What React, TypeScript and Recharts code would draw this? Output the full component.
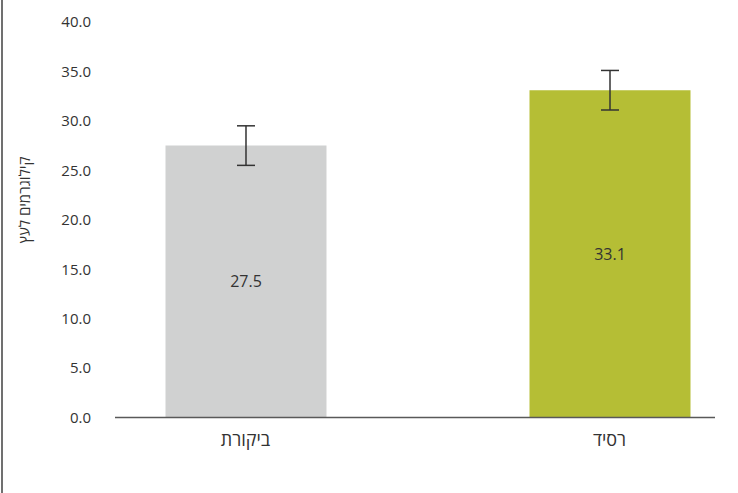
import React from "react";
import { BarChart, Bar, XAxis, YAxis, ErrorBar, LabelList, Cell, Label } from "recharts";

const categories = ["ביקורת", "רסיד"];
const values = [27.5, 33.1];
const errors = [2.0, 2.0];
const colors = ["#D0D1D1", "#B5BE35"];
const yTicks = [0, 5, 10, 15, 20, 25, 30, 35, 40];

const data = categories.map((name, i) => ({ idx: i, name, value: values[i], err: errors[i] }));

const FONT = '"Open Sans", "Liberation Sans", "DejaVu Sans", sans-serif';

const YTitle = () => (
  <text
    x={24}
    y={200}
    transform="rotate(-90, 24, 200)"
    textAnchor="middle"
    dominantBaseline="central"
    fill="#333"
    fontSize={15}
    fontFamily={FONT}
  >
    קילוגרמים לעץ
  </text>
);

export default function App() {
  return (
    <div style={{ position: "absolute", left: 0, top: 0, width: 738, height: 493, background: "#fff", overflow: "hidden" }}>
      <BarChart
        width={738}
        height={493}
        data={data}
        margin={{ top: 22, right: 23, bottom: 45.5, left: 0 }}
        style={{ fontFamily: FONT }}
      >
        <XAxis
          dataKey="idx"
          type="number"
          domain={[-0.3585, 1.2898]}
          ticks={[0, 1]}
          tickFormatter={(v: number) => categories[v] ?? ""}
          allowDataOverflow
          axisLine={{ stroke: "#595959", strokeWidth: 1.5 }}
          tickLine={false}
          tickMargin={10}
          tick={{ fill: "#333", fontSize: 18, fontFamily: FONT }}
        />
        <YAxis
          type="number"
          domain={[0, 40]}
          ticks={yTicks}
          width={115}
          axisLine={false}
          tickLine={false}
          tickSize={0}
          tickMargin={24}
          tickFormatter={(v: number) => v.toFixed(1)}
          tick={{ fill: "#333", fontSize: 15, fontFamily: FONT }}
        >
          <Label content={<YTitle />} />
        </YAxis>
        <Bar dataKey="value" barSize={161} isAnimationActive={false}>
          {data.map((d, i) => (
            <Cell key={d.name} fill={colors[i]} />
          ))}
          <ErrorBar dataKey="err" direction="y" width={9} stroke="#333" strokeWidth={1.5} />
          <LabelList
            dataKey="value"
            position="center"
            formatter={(v: number) => v.toFixed(1)}
            style={{ fill: "#333", fontSize: 16, fontFamily: FONT }}
          />
        </Bar>
      </BarChart>
      <div style={{ position: "absolute", left: 1, top: 0, width: 2, height: 493, background: "#707070", zIndex: 10 }} />
    </div>
  );
}
